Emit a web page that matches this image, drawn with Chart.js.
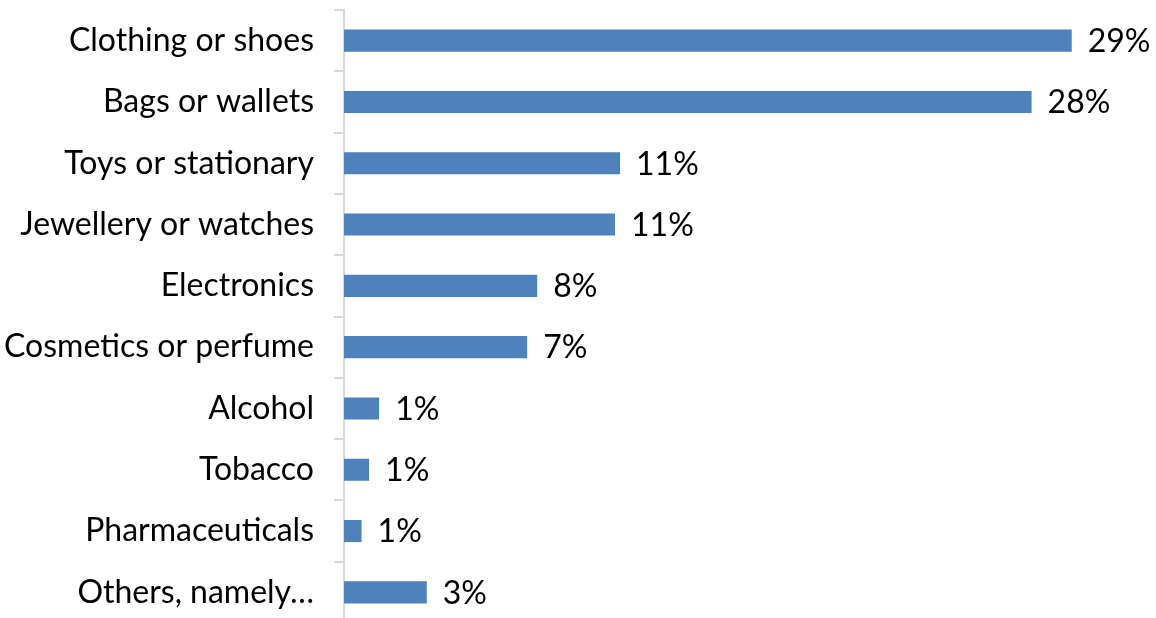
<!DOCTYPE html>
<html>
<head>
<meta charset="utf-8">
<script src="https://cdn.jsdelivr.net/npm/chart.js@4/dist/chart.umd.min.js"></script>
<style>
  html, body { margin: 0; padding: 0; background: #fff; overflow: hidden; }
  #wrap { width: 1156px; height: 623px; }
</style>
</head>
<body>
<div id="wrap"><canvas id="goodsChart"></canvas></div>
<script>
// categories (top to bottom)
const categories = [
    'Clothing or shoes', 'Bags or wallets', 'Toys or stationary', 'Jewellery or watches',
    'Electronics', 'Cosmetics or perfume', 'Alcohol', 'Tobacco', 'Pharmaceuticals', 'Others, namely…'
];
// bar lengths (%)
const shares = [29.0, 27.4, 11.0, 10.8, 7.7, 7.3, 1.4, 1.0, 0.7, 3.3];
// printed labels next to the bars
const shareLabels = ['29%', '28%', '11%', '11%', '8%', '7%', '1%', '1%', '1%', '3%'];

Chart.defaults.font.family = "Lato, 'Open Sans', sans-serif";
Chart.defaults.color = '#000';

// simple value labels at the end of each bar
const endLabels = {
    id: 'endLabels',
    afterDatasetsDraw(chart) {
        const ctx = chart.ctx;
        const meta = chart.getDatasetMeta(0);
        ctx.save();
        ctx.font = "32px Lato, 'Open Sans', sans-serif";
        ctx.fillStyle = '#000';
        ctx.textAlign = 'left';
        ctx.textBaseline = 'middle';
        meta.data.forEach((bar, i) => {
            ctx.fillText(shareLabels[i], bar.x + 16, bar.y + 1);
        });
        ctx.restore();
    }
};

new Chart(document.getElementById('goodsChart'), {
    type: 'bar',
    data: {
        labels: categories,
        datasets: [{
            data: shares,
            backgroundColor: '#4f81bd',
            borderWidth: 0,
            barPercentage: 0.36,
            categoryPercentage: 1
        }]
    },
    options: {
        indexAxis: 'y',
        responsive: true,
        maintainAspectRatio: false,
        animation: false,
        layout: { padding: { top: 10, right: 9, bottom: 0, left: 0 } },
        plugins: { legend: { display: false }, tooltip: { enabled: false } },
        scales: {
            x: { display: false, min: 0, max: 32 },
            y: {
                afterFit(scale) {
                    scale.width = 344;
                    scale.paddingTop = 0;
                    scale.paddingBottom = 0;
                },
                border: { display: true, color: '#d9d9d9', width: 2 },
                grid: {
                    offset: true,
                    drawOnChartArea: false,
                    tickLength: 10,
                    color: '#d9d9d9',
                    lineWidth: 2
                },
                ticks: {
                    padding: 20,
                    font: { size: 32 },
                    color: '#000'
                }
            }
        }
    },
    plugins: [endLabels]
});
</script>
</body>
</html>
